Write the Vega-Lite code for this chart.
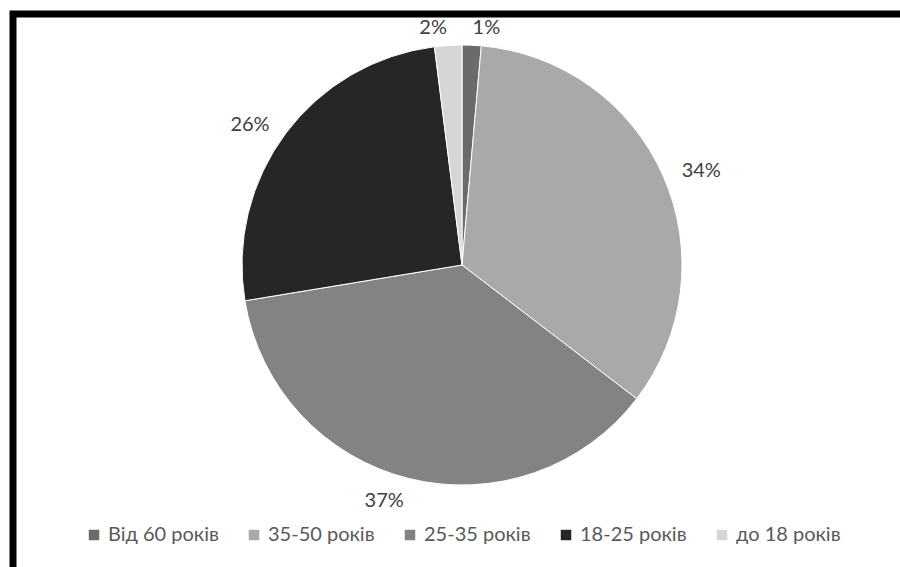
{
  "$schema": "https://vega.github.io/schema/vega-lite/v6.json",
  "width": 887,
  "height": 553,
  "autosize": {"type": "none"},
  "padding": {"left": 13, "top": 14, "right": 0, "bottom": 0},
  "background": "white",
  "view": {"stroke": "black", "strokeWidth": 7, "fill": "white", "strokeDash": [887, 1440, 553], "strokeJoin": "miter"},
  "config": {
    "font": "Lato"
  },
  "data": {
    "values": [
      {"group": "Від 60 років", "share": 0.014, "rank": 1},
      {"group": "35-50 років", "share": 0.34, "rank": 2},
      {"group": "25-35 років", "share": 0.37, "rank": 3},
      {"group": "18-25 років", "share": 0.256, "rank": 4},
      {"group": "до 18 років", "share": 0.02, "rank": 5}
    ]
  },
  "encoding": {
    "theta": {"field": "share", "type": "quantitative", "stack": true},
    "order": {"field": "rank", "type": "quantitative"}
  },
  "layer": [
    {
      "mark": {"type": "arc", "radius": 220, "stroke": "white", "strokeWidth": 1, "xOffset": 5.5, "yOffset": -25.5},
      "encoding": {
        "color": {
          "field": "group",
          "type": "nominal",
          "sort": null,
          "scale": {
            "domain": ["Від 60 років", "35-50 років", "25-35 років", "18-25 років", "до 18 років"],
            "range": ["#6b6b6b", "#a9a9a9", "#838383", "#262626", "#d6d6d6"]
          },
          "legend": {
            "title": null,
            "orient": "none",
            "direction": "horizontal",
            "legendX": 71,
            "legendY": 511,
            "symbolType": "square",
            "symbolSize": 110,
            "symbolStrokeWidth": 0,
            "labelFontSize": 20,
            "labelColor": "#595959",
            "labelFont": "Lato",
            "columnPadding": 25,
            "labelOffset": 4
          }
        }
      }
    },
    {
      "mark": {
        "type": "text",
        "radius": 240,
        "fontSize": 20,
        "fill": "#404040",
        "xOffset": 5.5,
        "yOffset": -22.5,
        "align": {"expr": "(datum.share_start + datum.share_end) / 2 < 0.5 ? 'left' : 'right'"}
      },
      "encoding": {
        "text": {"field": "share", "type": "quantitative", "format": ".0%"}
      }
    }
  ]
}
